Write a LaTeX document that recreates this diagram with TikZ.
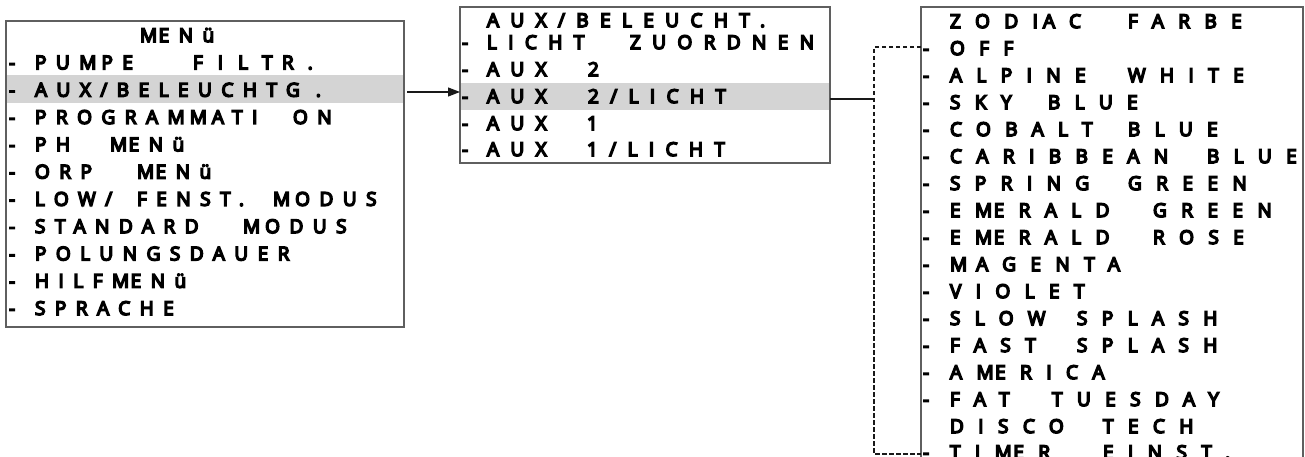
\documentclass[tikz,border=0pt]{standalone}
\usepackage{fontspec}
\setmainfont{Open Sans}
\newfontfamily\menufontA{Open Sans}[LetterSpace=50, FakeBold=8]
\newfontfamily\menufontB{Open Sans}[LetterSpace=60, FakeBold=8]
\newfontfamily\menufontC{Open Sans}[LetterSpace=76, FakeBold=8]
\usetikzlibrary{arrows.meta}
\definecolor{bordergray}{HTML}{5F5F5F}
\definecolor{hlgray}{HTML}{D4D4D4}
\tikzset{
  txtbase/.style={anchor=base west, inner sep=0pt, outer sep=0pt},
  txtA/.style={txtbase, font=\menufontA\fontsize{19}{19}\selectfont},
  txtB/.style={txtbase, font=\menufontB\fontsize{19}{19}\selectfont},
  txtC/.style={txtbase, font=\menufontC\fontsize{19}{19}\selectfont},
  box/.style={draw=bordergray, line width=1.2pt, anchor=north west, inner sep=0pt, outer sep=0pt},
  band/.style={fill=hlgray, draw=none, anchor=north west, inner sep=0pt, outer sep=0pt},
  link/.style={draw=black!90, line width=1.2pt},
  dlink/.style={draw=black!90, line width=1.4pt, dash pattern=on 4.5pt off 2.5pt},
}
\newcommand\mw[5]{\node[#1] (#2) at (#3,#4) {#5};}
\newcommand\MEk{M\kern1.5pt E}
\newcommand\MkA{M\kern5pt }
\newcommand\MkC{M\kern9pt }
\begin{document}
\begin{tikzpicture}[x=1pt,y=-1pt]
\useasboundingbox (0,0) rectangle (1305,457);
\clip (0,0) rectangle (1305,457);
% highlight bands
\node[band, minimum width=398pt, minimum height=28pt] (h1) at (6,75) {};
\node[band, minimum width=370pt, minimum height=27pt] (h2) at (460,83) {};
% boxes
\node[box, minimum width=398pt, minimum height=306pt] (b1) at (6,21) {};
\node[box, minimum width=370pt, minimum height=156pt] (b2) at (460,7) {};
\node[box, minimum width=382pt, minimum height=480pt] (b3) at (921,7) {};
% ---- box 1
\mw{txtA}{t1}{140}{42}{\MEk Nü}
\mw{txtA}{d11}{9}{69.3}{-}   \mw{txtA}{a11}{35}{69.3}{PU\MkA PE}      \mw{txtA}{c11}{193}{69.3}{F\kern15pt I\kern15pt L\kern14pt TR\kern14pt .}
\mw{txtA}{d12}{9}{96.6}{-}   \mw{txtA}{a12}{35}{96.6}{AUX/BELEUCHTG\kern16pt .}
\mw{txtA}{d13}{9}{123.9}{-}  \mw{txtA}{a13}{35}{123.9}{PROGRA\MkA\MkA ATI} \mw{txtA}{c13}{293}{123.9}{ON}
\mw{txtA}{d14}{9}{151.2}{-}  \mw{txtA}{a14}{35}{151.2}{PH}         \mw{txtA}{c14}{110}{151.2}{\MEk Nü}
\mw{txtA}{d15}{9}{178.5}{-}  \mw{txtA}{a15}{35}{178.5}{ORP}        \mw{txtA}{c15}{137}{178.5}{\MEk Nü}
\mw{txtA}{d16}{9}{205.8}{-}  \mw{txtA}{a16}{35}{205.8}{LOW/}       \mw{txtA}{c16}{137}{205.8}{FENST.} \mw{txtA}{e16}{273}{205.8}{\MkA ODUS}
\mw{txtA}{d17}{9}{233.1}{-}  \mw{txtA}{a17}{35}{233.1}{STANDARD}   \mw{txtA}{c17}{243}{233.1}{\MkA ODUS}
\mw{txtA}{d18}{9}{260.4}{-}  \mw{txtA}{a18}{35}{260.4}{POLUNGSDAUER}
\mw{txtA}{d19}{9}{287.7}{-}  \mw{txtA}{a19}{35}{287.7}{HILF\MEk Nü}
\mw{txtA}{d1a}{9}{315}{-}    \mw{txtA}{a1a}{35}{315}{SPRACHE}
% ---- box 2
\mw{txtB}{t2}{487}{27}{AUX/BELEUCHT.}
\mw{txtB}{d21}{462}{49}{-}   \mw{txtB}{a21}{487}{49}{LICHT}   \mw{txtB}{c21}{630}{49}{ZUORDNEN}
\mw{txtB}{d22}{462}{76}{-}   \mw{txtB}{a22}{487}{76}{AUX}     \mw{txtB}{c22}{588}{76}{2}
\mw{txtB}{d23}{462}{103}{-}  \mw{txtB}{a23}{487}{103}{AUX}    \mw{txtB}{c23}{588}{103}{2/LICHT}
\mw{txtB}{d24}{462}{130}{-}  \mw{txtB}{a24}{487}{130}{AUX}    \mw{txtB}{c24}{587}{130}{1}
\mw{txtB}{d25}{462}{156}{-}  \mw{txtB}{a25}{487}{156}{AUX}    \mw{txtB}{c25}{587}{156}{1/LICHT}
% ---- box 3
\mw{txtC}{t3}{950}{28}{ZODI}  \mw{txtC}{t3m}{1043}{28}{AC}   \mw{txtC}{t3b}{1128}{28}{FARBE}
\mw{txtC}{d31}{923}{55}{-}  \mw{txtC}{a31}{950}{55}{OFF}
\mw{txtC}{d32}{923}{82}{-}  \mw{txtC}{a32}{950}{82}{ALPINE}      \mw{txtC}{c32}{1128}{82}{WHITE}
\mw{txtC}{d33}{923}{109}{-} \mw{txtC}{a33}{950}{109}{SKY}        \mw{txtC}{c33}{1048}{109}{BLUE}
\mw{txtC}{d34}{923}{136}{-} \mw{txtC}{a34}{950}{136}{COBALT}     \mw{txtC}{c34}{1128}{136}{BLUE}
\mw{txtC}{d35}{923}{163}{-} \mw{txtC}{a35}{950}{163}{CARIBBEAN}  \mw{txtC}{c35}{1207}{163}{BLUE}
\mw{txtC}{d36}{923}{190}{-} \mw{txtC}{a36}{950}{190}{SPRING}     \mw{txtC}{c36}{1128}{190}{GREEN}
\mw{txtC}{d37}{923}{217}{-} \mw{txtC}{a37}{950}{217}{E\MEk RALD} \mw{txtC}{c37}{1153}{217}{GREEN}
\mw{txtC}{d38}{923}{244}{-} \mw{txtC}{a38}{950}{244}{E\MEk RALD} \mw{txtC}{c38}{1153}{244}{ROSE}
\mw{txtC}{d39}{923}{271}{-} \mw{txtC}{a39}{950}{271}{\MkC AGENTA}
\mw{txtC}{d3a}{923}{298}{-} \mw{txtC}{a3a}{950}{298}{VIOLET}
\mw{txtC}{d3b}{923}{325}{-} \mw{txtC}{a3b}{950}{325}{SLOW}       \mw{txtC}{c3b}{1077}{325}{SPLASH}
\mw{txtC}{d3c}{923}{352}{-} \mw{txtC}{a3c}{950}{352}{FAST}       \mw{txtC}{c3c}{1077}{352}{SPLASH}
\mw{txtC}{d3d}{923}{379}{-} \mw{txtC}{a3d}{950}{379}{A\MEk RICA}
\mw{txtC}{d3e}{923}{406}{-} \mw{txtC}{a3e}{950}{406}{FAT}        \mw{txtC}{c3e}{1052}{406}{TUESDAY}
                      \mw{txtC}{a3f}{950}{433}{DISCO}      \mw{txtC}{c3f}{1103}{433}{TECH}
\mw{txtC}{d3g}{923}{459}{-} \mw{txtC}{a3g}{950}{459}{TI\MEk R}   \mw{txtC}{c3g}{1103}{459}{EINST.}
% ---- connectors
\coordinate (as) at (407,92);
\draw[link, -{Triangle[length=12pt,width=9pt]}] (as) -- (b2.west |- as);
\coordinate (j) at (874,99);
\coordinate (dt) at (874,47);
\coordinate (db) at (874,454);
\draw[link] (b2.east |- j) -- (j);
\draw[dlink] (b3.west |- dt) -- (dt) -- (db) -- (b3.west |- db);
\end{tikzpicture}
\end{document}
